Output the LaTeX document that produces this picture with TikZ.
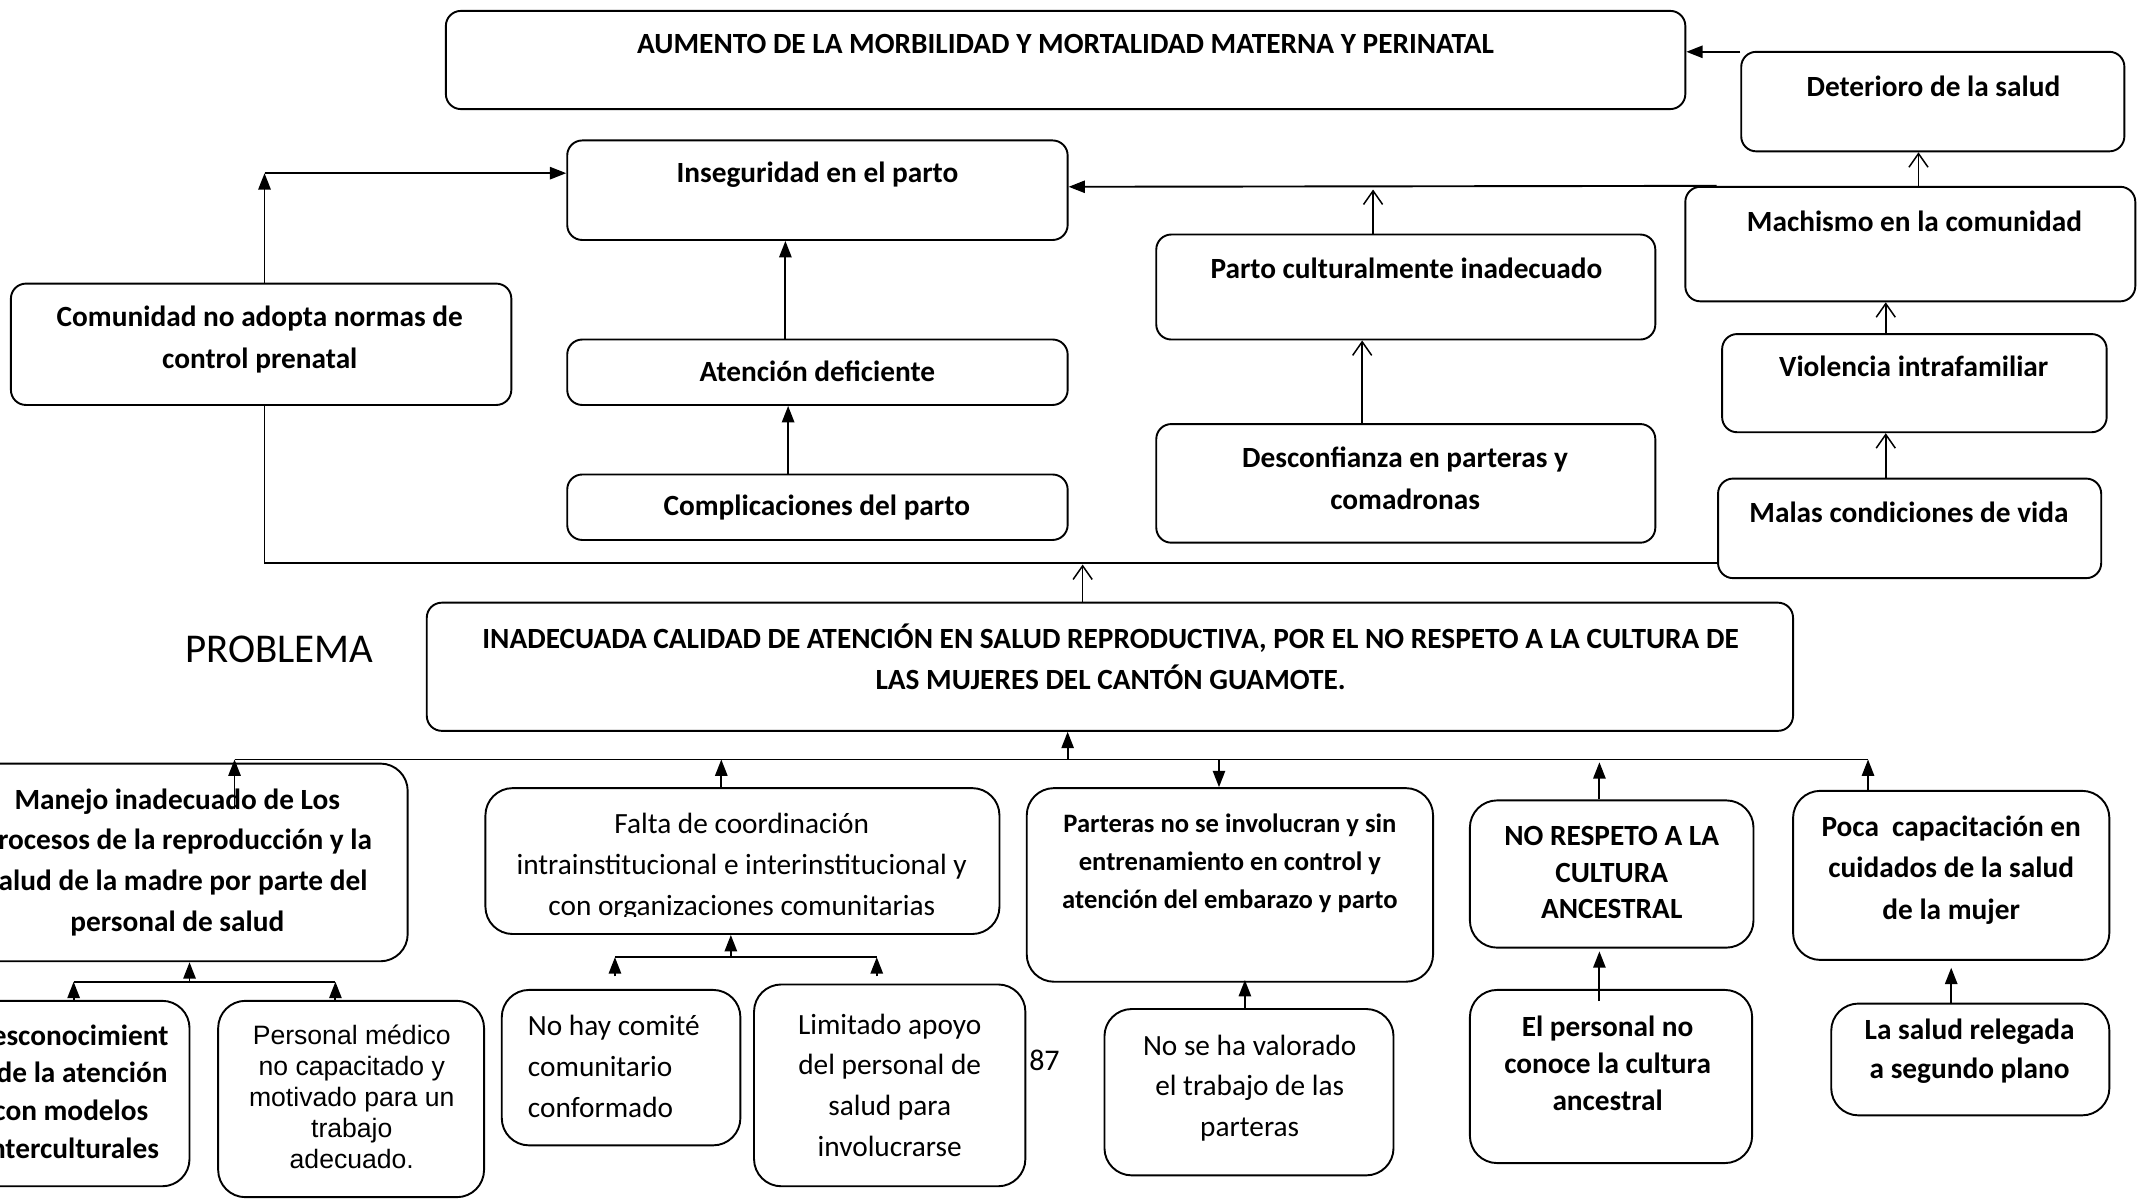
\documentclass[tikz,border=0pt]{standalone}
\usepackage{fontspec}
\setmainfont{Carlito}
\newfontfamily\arialfam{Liberation Sans}
\usetikzlibrary{arrows.meta}
\begin{document}
\begin{tikzpicture}[x=1pt,y=-1pt,
 box/.style={draw, line width=1.4pt, rounded corners=11pt, inner sep=0pt},
 rbox/.style={draw, line width=1.4pt, rounded corners=20pt, inner sep=0pt},
 tb/.style={inner sep=0pt, align=center, font=\fontsize{21.5}{#1}\selectfont\bfseries},
 tr/.style={inner sep=0pt, align=center, font=\fontsize{21.5}{#1}\selectfont},
 fa/.style={line width=1.4pt, -{Triangle[length=12pt,width=9pt]}},
 oa/.style={line width=1.1pt, -{Straight Barb[length=10pt,width=14pt]}},
 ln/.style={line width=1.4pt}]
\path[use as bounding box] (0,0) rectangle (1568,880);
\clip (0,0) rectangle (1568,880);
\fill[white] (0,0) rectangle (1568,880);

% ---------- boxes, upper part ----------
\node[box, minimum width=909pt, minimum height=72pt] (top) at (781.5,44) {};
\node[box, minimum width=281pt, minimum height=73pt] (det) at (1417.5,74.5) {};
\node[box, minimum width=367pt, minimum height=73pt] (ins) at (599.5,139.5) {};
\node[box, minimum width=330pt, minimum height=84pt] (mac) at (1401,179) {};
\node[box, minimum width=366pt, minimum height=77pt] (cult) at (1031,210.5) {};
\node[box, minimum width=366pt, minimum height=87pt] (des) at (1031,354.5) {};
\node[box, minimum width=282pt, minimum height=72pt] (vio) at (1404,281) {};
\node[box, minimum width=281pt, minimum height=73pt] (mal) at (1400.5,387.5) {};
\node[box, minimum width=367pt, minimum height=89pt] (com) at (191.5,252.5) {};
\node[box, minimum width=367pt, minimum height=48pt] (ate) at (599.5,273) {};
\node[box, minimum width=367pt, minimum height=48pt] (comp) at (599.5,372) {};
\node[box, minimum width=1002pt, minimum height=94pt] (prob) at (814,489) {};

% ---------- boxes, lower part ----------
\node[rbox, minimum width=338pt, minimum height=145pt] (man) at (130,632.5) {};
\node[rbox, minimum width=377pt, minimum height=107pt] (fal) at (544.5,631.5) {};
\node[rbox, minimum width=298pt, minimum height=142pt] (par) at (902,649) {};
\node[rbox, minimum width=208pt, minimum height=108pt] (nor) at (1182,641) {};
\node[rbox, minimum width=232pt, minimum height=124pt] (poc) at (1431,642) {};
\node[rbox, minimum width=174pt, minimum height=136pt] (dsc) at (52,802) {};
\node[rbox, minimum width=195pt, minimum height=144pt] (pme) at (257.5,806) {};
\node[rbox, minimum width=175pt, minimum height=114pt] (nhc) at (455.5,783) {};
\node[rbox, minimum width=199pt, minimum height=148pt] (lim) at (652.5,796) {};
\node[rbox, minimum width=212pt, minimum height=122pt] (nsv) at (916,801) {};
\node[rbox, minimum width=207pt, minimum height=127pt] (epn) at (1181.5,789.5) {};
\node[rbox, minimum width=204pt, minimum height=82pt] (lsr) at (1445,777) {};

% ---------- texts ----------
\node[tb=31] (top-t) at (781.5,32) {AUMENTO DE LA MORBILIDAD Y MORTALIDAD MATERNA Y PERINATAL};
\node[tb=31] (det-t) at (1418,63) {Deterioro de la salud};
\node[tb=31] (ins-t) at (599.5,128) {Inseguridad en el parto};
\node[tb=31] (mac-t) at (1404,162) {Machismo en la comunidad};
\node[tb=31] (cult-t) at (1031.5,197) {Parto culturalmente inadecuado};
\node[tb=31] (des-t) at (1030.5,351) {Desconfianza en parteras y\\comadronas};
\node[tb=31] (vio-t) at (1403.5,269) {Violencia intrafamiliar};
\node[tb=31] (mal-t) at (1400,376) {Malas condiciones de vida};
\node[tb=31] (com-t) at (190.5,249) {Comunidad no adopta normas de\\control prenatal};
\node[tb=31] (ate-t) at (599.5,272) {Atención deficiente};
\node[tb=31] (comp-t) at (599,372) {Complicaciones del parto};
\node[tb=30] (prob-t) at (814.5,482) {INADECUADA CALIDAD DE ATENCIÓN EN SALUD REPRODUCTIVA, POR EL NO RESPETO A LA CULTURA DE\\LAS MUJERES DEL CANTÓN GUAMOTE.};
\node[inner sep=0pt, font=\fontsize{30}{36}\selectfont] (problema) at (205,476) {PROBLEMA};

\node[tb=30] (man-t) at (130,632.5) {Manejo inadecuado de Los\\procesos de la reproducción y la\\salud de la madre por parte del\\personal de salud};
\begin{scope}
\clip (356,578) rectangle (733,672.5);
\node[tr=30] (fal-t) at (544,636) {Falta de coordinación\\intrainstitucional e interinstitucional y\\con organizaciones comunitarias};
\end{scope}
\node[inner sep=0pt, align=center, font=\fontsize{19.5}{28}\selectfont\bfseries] (par-t) at (902,633) {Parteras no se involucran y sin\\entrenamiento en control y\\atención del embarazo y parto};
\node[tb=27] (nor-t) at (1182,640) {NO RESPETO A LA\\CULTURA\\ANCESTRAL};
\node[tb=30.5] (poc-t) at (1431,638) {Poca\ \ capacitación en\\cuidados de la salud\\de la mujer};
\node[tb=27.7] (dsc-t) at (52,800.5) {Desconocimient\\o de la atención\\con modelos\\interculturales};
\node[inner sep=0pt, align=center, font=\arialfam\fontsize{19.5}{22.7}\selectfont] (pme-t) at (258,804.5) {Personal médico\\no capacitado y\\motivado para un\\trabajo\\adecuado.};
\node[tr=30, align=left, anchor=west] (nhc-t) at (387,782) {No hay comité\\comunitario\\conformado};
\node[tr=30] (lim-t) at (652.5,796) {Limitado apoyo\\del personal de\\salud para\\involucrarse};
\node[tr=30] (nsv-t) at (916.5,798) {No se ha valorado\\el trabajo de las\\parteras};
\node[tb=27] (epn-t) at (1179,780) {El personal no\\conoce la cultura\\ancestral};
\node[tb=29] (lsr-t) at (1444.5,771) {La salud relegada\\a segundo plano};
\node[inner sep=0pt, font=\fontsize{22}{26}\selectfont] (pgnum) at (766,778) {87};

% ---------- reference coordinates ----------
\coordinate (y38) at (0,38);
\coordinate (y127) at (0,127);
\coordinate (y137) at (0,137);
\coordinate (y413) at (0,413);
\coordinate (x1407) at (1407,0);
\coordinate (x1259) at (1259,0);
\coordinate (x1007) at (1007,0);
\coordinate (x999) at (999,0);
\coordinate (x1383) at (1383,0);
\coordinate (x576) at (576,0);
\coordinate (x578) at (578,0);
\coordinate (x194) at (194,0);
\coordinate (x794) at (794,0);
\coordinate (x783) at (783,0);
\coordinate (x529) at (529,0);
\coordinate (x894) at (894,0);
\coordinate (x1173) at (1173,0);
\coordinate (x1370) at (1370,0);
\coordinate (x139) at (139,0);
\coordinate (x54) at (54,0);
\coordinate (x246) at (246,0);
\coordinate (x536) at (536,0);
\coordinate (x913) at (913,0);
\coordinate (x1431) at (1431,0);

\coordinate (c1) at (194,127);
\coordinate (c2) at (194,413);
\coordinate (jcult) at (1007,139);
\coordinate (jprob) at (794,414);
\coordinate (bl) at (172,557);
\coordinate (br) at (1370,557);
\coordinate (manin) at (172,593);
\coordinate (b1l) at (54,720);
\coordinate (b1r) at (246,720);
\coordinate (b2l) at (451,702);
\coordinate (b2r) at (643,702);

% ---------- connectors, upper part ----------
\draw[fa] (det.west |- y38) -- (top.east |- y38);
\draw[oa] (mac.north -| x1407) -- (det.south -| x1407);
\draw[fa] (mac.north -| x1259) -- (ins.east |- y137);
\draw[oa] (cult.north -| x1007) -- (jcult);
\draw[oa] (des.north -| x999) -- (cult.south -| x999);
\draw[oa] (vio.north -| x1383) -- (mac.south -| x1383);
\draw[oa] (mal.north -| x1383) -- (vio.south -| x1383);
\draw[fa] (ate.north -| x576) -- (ins.south -| x576);
\draw[fa] (comp.north -| x578) -- (ate.south -| x578);
\draw[fa] (com.north -| x194) -- (c1);
\draw[fa] (c1) -- (ins.west |- y127);
\draw[ln] (com.south -| x194) -- (c2) -- (mal.west |- y413);
\draw[oa] (prob.north -| x794) -- (jprob);

% ---------- connectors, lower part ----------
\draw[ln] (bl) -- (br);
\draw[fa] (bl -| x783) -- (prob.south -| x783);
\draw[fa] (manin) -- (bl);
\draw[fa] (fal.north -| x529) -- (bl -| x529);
\draw[fa] (bl -| x894) -- (par.north -| x894);
\draw[fa] (nor.north -| x1173) -- ([yshift=-2pt]bl -| x1173);
\draw[fa] (poc.north -| x1370) -- (br);

\draw[ln] (b1l) -- (b1r);
\draw[fa] (b1l -| x139) -- (man.south -| x139);
\draw[fa] (dsc.north -| x54) -- (b1l);
\draw[fa] (pme.north -| x246) -- (b1r);

\draw[ln] (b2l) -- (b2r);
\draw[fa] (b2l -| x536) -- (fal.south -| x536);
\draw[fa] ([yshift=-14pt]b2l) -- (b2l);
\draw[fa] ([yshift=-14pt]b2r) -- (b2r);

\draw[fa] (nsv.north -| x913) -- ([yshift=2pt]par.south -| x913);
\draw[fa] ([yshift=-9pt]epn.north -| x1173) -- ([yshift=-2pt]nor.south -| x1173);
\draw[fa] (lsr.north -| x1431) -- ([yshift=-5pt]poc.south -| x1431);
\end{tikzpicture}
\end{document}
